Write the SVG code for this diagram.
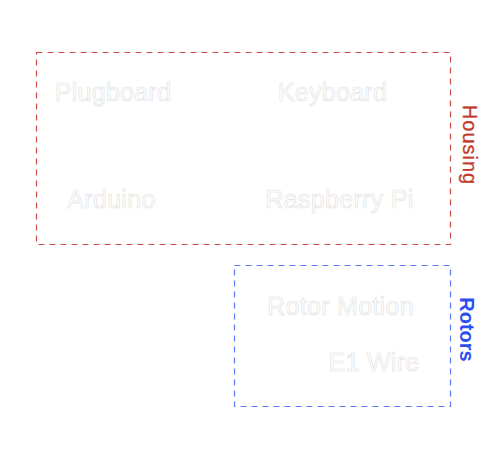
<svg xmlns="http://www.w3.org/2000/svg" width="481" height="450" viewBox="0 0 481 450">
<style>
.node text{font-family:"Liberation Sans",Arial,sans-serif;font-size:25px;fill:#ffffff;stroke:#dedede;stroke-width:0.6;text-anchor:middle;letter-spacing:0.3px}
.box{fill:none;stroke-width:1.2;stroke-dasharray:6 5}
.lbl{font-family:"Liberation Sans",Arial,sans-serif;font-size:20px;text-anchor:middle}
</style>
<rect width="481" height="450" fill="#ffffff"/>
<g id="housing">
<rect class="box" x="36.5" y="52.5" width="414" height="192" stroke="#c9504a"/>
<text class="lbl" transform="translate(463,145) rotate(90)" fill="#c0392b" letter-spacing="1" stroke="#c0392b" stroke-width="0.3">Housing</text>
</g>
<g id="rotors">
<rect class="box" x="234.5" y="265.5" width="216" height="141" stroke="#5b78f5"/>
<text class="lbl" transform="translate(460,329.5) rotate(90)" fill="#2d4ff0" font-weight="bold">Rotors</text>
</g>
<g id="plugboard" class="node"><text x="113" y="101">Plugboard</text></g>
<g id="keyboard" class="node"><text x="332.5" y="101">Keyboard</text></g>
<g id="arduino" class="node"><text x="111.5" y="208">Arduino</text></g>
<g id="raspberrypi" class="node"><text x="339.5" y="208">Raspberry Pi</text></g>
<g id="rotormotion" class="node"><text x="340.5" y="315">Rotor Motion</text></g>
<g id="e1wire" class="node"><text x="374" y="371">E1 Wire</text></g>
<g id="connectors"></g>
</svg>
